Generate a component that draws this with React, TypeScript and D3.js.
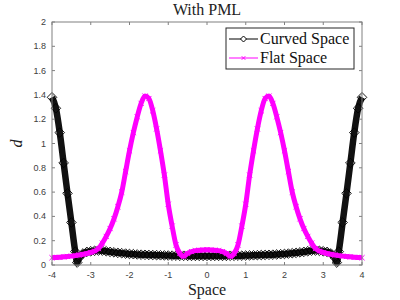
import React from "react";
import * as d3 from "d3";

// x grid (Space) for the flat-space curve
const flatX = [
  -4.0, -3.9, -3.8, -3.7, -3.6, -3.5, -3.4, -3.3, -3.2, -3.1, -3.0, -2.9, -2.8, -2.7, -2.6, -2.5, -2.4, -2.3, -2.2, -2.1,
  -2.0, -1.9, -1.8, -1.7, -1.6, -1.5, -1.4, -1.3, -1.2, -1.1, -1.0, -0.9, -0.8, -0.7, -0.6, -0.5, -0.4, -0.3, -0.2, -0.1,
  0.0, 0.1, 0.2, 0.3, 0.4, 0.5, 0.6, 0.7, 0.8, 0.9, 1.0, 1.1, 1.2, 1.3, 1.4, 1.5, 1.6, 1.7, 1.8, 1.9,
  2.0, 2.1, 2.2, 2.3, 2.4, 2.5, 2.6, 2.7, 2.8, 2.9, 3.0, 3.1, 3.2, 3.3, 3.4, 3.5, 3.6, 3.7, 3.8, 3.9, 4.0,
];
const flatD = [
  0.06, 0.062, 0.064, 0.067, 0.07, 0.073, 0.077, 0.082, 0.088, 0.095, 0.103, 0.115, 0.135, 0.18, 0.235, 0.3, 0.38, 0.48, 0.6, 0.77,
  0.94, 1.09, 1.22, 1.33, 1.39, 1.37, 1.27, 1.12, 0.94, 0.74, 0.5, 0.32, 0.165, 0.095, 0.072, 0.095, 0.11, 0.118, 0.122, 0.124,
  0.125, 0.124, 0.122, 0.118, 0.11, 0.095, 0.072, 0.095, 0.165, 0.32, 0.5, 0.74, 0.94, 1.12, 1.27, 1.37, 1.39, 1.33, 1.22, 1.09,
  0.94, 0.77, 0.6, 0.48, 0.38, 0.3, 0.235, 0.18, 0.135, 0.115, 0.103, 0.095, 0.088, 0.082, 0.077, 0.073, 0.07, 0.067, 0.064, 0.062, 0.06,
];

// x grid for the curved-space curve (extra points at the sharp dips)
const curvedX = [
  -4.0, -3.9, -3.8, -3.7, -3.6, -3.5, -3.4, -3.35, -3.3, -3.2, -3.1, -3.0, -2.9, -2.8, -2.7, -2.6, -2.5, -2.4, -2.3, -2.2, -2.1,
  -2.0, -1.9, -1.8, -1.7, -1.6, -1.5, -1.4, -1.3, -1.2, -1.1, -1.0, -0.9, -0.8, -0.7, -0.6, -0.5, -0.4, -0.3, -0.2, -0.1,
  0.0, 0.1, 0.2, 0.3, 0.4, 0.5, 0.6, 0.7, 0.8, 0.9, 1.0, 1.1, 1.2, 1.3, 1.4, 1.5, 1.6, 1.7, 1.8, 1.9,
  2.0, 2.1, 2.2, 2.3, 2.4, 2.5, 2.6, 2.7, 2.8, 2.9, 3.0, 3.1, 3.2, 3.3, 3.35, 3.4, 3.5, 3.6, 3.7, 3.8, 3.9, 4.0,
];
const curvedD = [
  1.38, 1.29, 1.09, 0.84, 0.59, 0.35, 0.11, 0.02, 0.06, 0.095, 0.108, 0.113, 0.117, 0.119, 0.118, 0.113, 0.108, 0.104, 0.1, 0.097, 0.094,
  0.091, 0.089, 0.087, 0.085, 0.084, 0.083, 0.082, 0.081, 0.08, 0.079, 0.078, 0.077, 0.077, 0.076, 0.076, 0.075, 0.075, 0.075, 0.075, 0.075,
  0.075, 0.075, 0.075, 0.075, 0.075, 0.075, 0.076, 0.076, 0.077, 0.077, 0.078, 0.079, 0.08, 0.081, 0.082, 0.083, 0.084, 0.085, 0.087, 0.089,
  0.091, 0.094, 0.097, 0.1, 0.104, 0.108, 0.113, 0.118, 0.119, 0.117, 0.113, 0.108, 0.095, 0.06, 0.02, 0.11, 0.35, 0.59, 0.84, 1.09, 1.29, 1.38,
];

const xTicks = [-4, -3, -2, -1, 0, 1, 2, 3, 4];
const yTicks = [0, 0.2, 0.4, 0.6, 0.8, 1, 1.2, 1.4, 1.6, 1.8, 2];
const legendLabels = ["Curved Space", "Flat Space"];

const W = 400;
const H = 300;
const left = 52, right = 362, top = 22, bottom = 265;
const serif = "'Liberation Serif', 'DejaVu Serif', serif";
const sans = "'Liberation Sans', Arial, sans-serif";
const axisColor = "#808080";
const magenta = "#ff00ff";

export default function App() {
  const x = d3.scaleLinear().domain([-4, 4]).range([left, right]);
  const y = d3.scaleLinear().domain([0, 2]).range([bottom, top]);

  const line = d3
    .line<[number, number]>()
    .x((d) => x(d[0]))
    .y((d) => y(d[1]))
    .curve(d3.curveMonotoneX);

  const curvedPts = curvedX.map((v, i) => [v, curvedD[i]] as [number, number]);
  const flatPts = flatX.map((v, i) => [v, flatD[i]] as [number, number]);

  const diamond = (cx, cy, r) => `M${cx},${cy - r}L${cx + r},${cy}L${cx},${cy + r}L${cx - r},${cy}Z`;
  const cross = (cx, cy, r) => `M${cx - r},${cy - r}L${cx + r},${cy + r}M${cx - r},${cy + r}L${cx + r},${cy - r}`;

  return (
    <svg width={W} height={H} style={{ position: "absolute", left: 0, top: 0, background: "#fff" }}>
      <rect x={0} y={0} width={W} height={H} fill="#fff" />

      {/* curved space */}
      <g>
        <path d={line(curvedPts)} fill="none" stroke="#111" strokeWidth={6.5} strokeLinejoin="round" />
        {curvedPts.map((p, i) => (
          <path key={i} d={diamond(x(p[0]), y(p[1]), 4.8)} fill="none" stroke="#000" strokeWidth={0.9} />
        ))}
        {/* flat space */}
        <path d={line(flatPts)} fill="none" stroke={magenta} strokeWidth={5} strokeLinejoin="round" />
        {flatPts.map((p, i) => (
          <path key={i} d={cross(x(p[0]), y(p[1]), 2.6)} fill="none" stroke={magenta} strokeWidth={1} />
        ))}
      </g>

      {/* axes box */}
      <rect x={left} y={top} width={right - left} height={bottom - top} fill="none" stroke={axisColor} strokeWidth={1} />
      {xTicks.map((t) => (
        <g key={"x" + t}>
          <line x1={x(t)} x2={x(t)} y1={bottom} y2={bottom - 3} stroke={axisColor} />
          <line x1={x(t)} x2={x(t)} y1={top} y2={top + 3} stroke={axisColor} />
          <text x={x(t)} y={bottom + 13} textAnchor="middle" fontFamily={sans} fontSize={9} fill="#404040">
            {t}
          </text>
        </g>
      ))}
      {yTicks.map((t) => (
        <g key={"y" + t}>
          <line x1={left} x2={left + 3} y1={y(t)} y2={y(t)} stroke={axisColor} />
          <line x1={right} x2={right - 3} y1={y(t)} y2={y(t)} stroke={axisColor} />
          <text x={left - 6} y={y(t) + 3} textAnchor="end" fontFamily={sans} fontSize={9} fill="#404040">
            {t}
          </text>
        </g>
      ))}

      {/* title and labels */}
      <text x={(left + right) / 2} y={15} textAnchor="middle" fontFamily={serif} fontSize={16} fill="#222">
        With PML
      </text>
      <text x={(left + right) / 2} y={295} textAnchor="middle" fontFamily={serif} fontSize={16} fill="#222">
        Space
      </text>
      <text
        transform={`translate(22,${(top + bottom) / 2}) rotate(-90)`}
        textAnchor="middle"
        fontFamily={serif}
        fontStyle="italic"
        fontSize={16}
        fill="#222"
      >
        d
      </text>

      {/* legend */}
      <g>
        <rect x={226} y={28} width={128} height={41} fill="#fff" stroke="#262626" strokeWidth={1} />
        <line x1={229} x2={258} y1={39} y2={39} stroke="#000" strokeWidth={1} />
        <path d={diamond(243.5, 39, 3)} fill="#fff" stroke="#000" strokeWidth={1} />
        <text x={260} y={44} fontFamily={serif} fontSize={16} fill="#111">
          {legendLabels[0]}
        </text>
        <line x1={229} x2={258} y1={58} y2={58} stroke={magenta} strokeWidth={1} />
        <path d={cross(243.5, 58, 1.8)} fill="none" stroke={magenta} strokeWidth={1} />
        <text x={260} y={63} fontFamily={serif} fontSize={16} fill="#111">
          {legendLabels[1]}
        </text>
      </g>
    </svg>
  );
}
